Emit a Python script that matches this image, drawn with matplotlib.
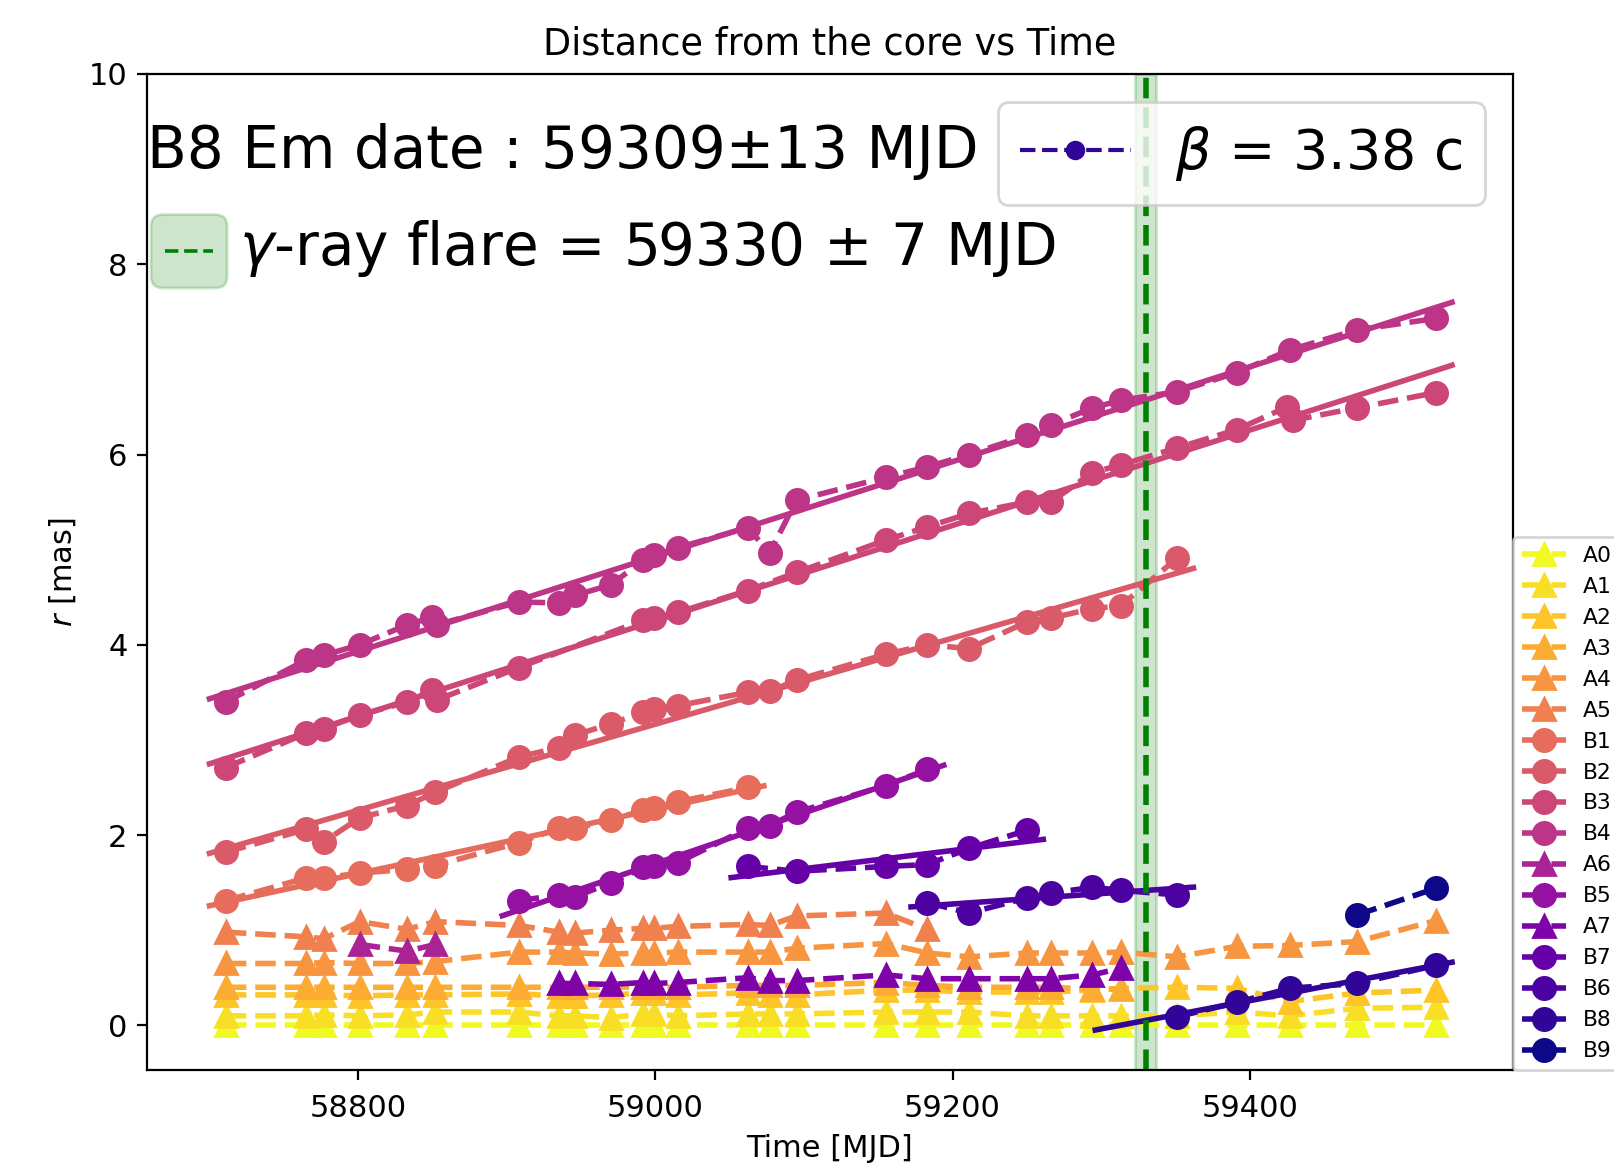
import numpy as np
import matplotlib.pyplot as plt
from matplotlib.lines import Line2D
from matplotlib.patches import FancyBboxPatch
from matplotlib.legend_handler import HandlerBase

plt.rcParams["font.size"] = 11

# observing epochs (MJD)
epochs = [58711, 58765, 58777, 58801, 58833, 58852, 58908, 58935, 58946, 58970,
          58992, 58999, 59015, 59062, 59077, 59095, 59155, 59183, 59211, 59250,
          59266, 59294, 59313, 59351, 59391, 59427, 59472, 59525]

# stationary / slow components (triangles)
r_A0 = [0.0] * 28
r_A1 = [0.10, 0.10, 0.11, 0.10, 0.11, 0.14, 0.14, 0.10, 0.10, 0.08, 0.12, 0.12, 0.10, 0.12,
        0.12, 0.12, 0.14, 0.14, 0.14, 0.10, 0.10, 0.10, 0.10, 0.10, 0.14, 0.10, 0.18, 0.19]
r_A2 = [0.32, 0.32, 0.32, 0.31, 0.32, 0.32, 0.33, 0.31, 0.31, 0.32, 0.34, 0.34, 0.32, 0.34,
        0.32, 0.32, 0.37, 0.37, 0.35, 0.35, 0.35, 0.37, 0.39, 0.40, 0.39, 0.25, 0.34, 0.37]
t_A3 = epochs[:23]
r_A3 = [0.40, 0.40, 0.40, 0.40, 0.40, 0.40, 0.40, 0.40, 0.40, 0.40, 0.40, 0.40, 0.40, 0.42,
        0.42, 0.42, 0.45, 0.42, 0.40, 0.40, 0.40, 0.38, 0.38]
r_A4 = [0.65, 0.65, 0.66, 0.65, 0.65, 0.67, 0.77, 0.77, 0.76, 0.75, 0.76, 0.76, 0.77, 0.77,
        0.77, 0.81, 0.86, 0.76, 0.72, 0.76, 0.76, 0.76, 0.77, 0.72, 0.83, 0.84, 0.88, 1.10]
t_A5 = epochs[:18]
r_A5 = [0.98, 0.93, 0.91, 1.09, 1.01, 1.09, 1.05, 0.98, 0.97, 1.00, 1.02, 1.02, 1.04, 1.06,
        1.05, 1.15, 1.18, 1.01]
t_A6 = [58801, 58833, 58852]
r_A6 = [0.85, 0.78, 0.85]
t_A7 = [58935, 58946, 58970, 58992, 58999, 59015, 59062, 59077, 59095, 59155, 59183,
        59211, 59250, 59266, 59294, 59313]
r_A7 = [0.44, 0.44, 0.43, 0.45, 0.44, 0.45, 0.50, 0.47, 0.47, 0.53, 0.49, 0.49, 0.49,
        0.49, 0.53, 0.60]

# moving knots (circles)
t_B1 = [58711, 58765, 58777, 58801, 58833, 58852, 58908, 58935, 58946, 58970, 58992,
        58999, 59015, 59062]
r_B1 = [1.31, 1.55, 1.55, 1.60, 1.64, 1.68, 1.92, 2.07, 2.07, 2.16, 2.26, 2.28, 2.35, 2.50]
t_B2 = [58711, 58765, 58777, 58801, 58833, 58852, 58908, 58935, 58946, 58970, 58992,
        58999, 59015, 59062, 59077, 59095, 59155, 59183, 59211, 59250, 59266, 59294,
        59313, 59351]
r_B2 = [1.82, 2.06, 1.93, 2.18, 2.31, 2.45, 2.82, 2.92, 3.05, 3.17, 3.29, 3.33, 3.36,
        3.50, 3.51, 3.63, 3.90, 4.00, 3.96, 4.24, 4.28, 4.38, 4.41, 4.91]
t_B3 = [58711, 58765, 58777, 58801, 58833, 58850, 58853, 58908, 58992, 58999, 59015,
        59062, 59095, 59155, 59183, 59211, 59250, 59266, 59294, 59313, 59351, 59391,
        59425, 59429, 59472, 59525]
r_B3 = [2.71, 3.07, 3.12, 3.26, 3.40, 3.52, 3.42, 3.76, 4.26, 4.28, 4.34, 4.57, 4.76,
        5.10, 5.24, 5.38, 5.50, 5.50, 5.81, 5.89, 6.07, 6.26, 6.50, 6.36, 6.49, 6.65]
t_B4 = [58711, 58765, 58777, 58801, 58833, 58850, 58853, 58908, 58935, 58946, 58970,
        58992, 58999, 59015, 59062, 59077, 59095, 59155, 59183, 59211, 59250, 59266,
        59294, 59313, 59351, 59391, 59427, 59472, 59525]
r_B4 = [3.40, 3.84, 3.89, 4.00, 4.21, 4.29, 4.21, 4.45, 4.44, 4.52, 4.63, 4.89, 4.94,
        5.02, 5.23, 4.97, 5.52, 5.76, 5.87, 6.00, 6.20, 6.31, 6.49, 6.57, 6.66, 6.86,
        7.10, 7.31, 7.43]
t_B5 = [58908, 58935, 58946, 58970, 58992, 58999, 59015, 59062, 59077, 59095, 59155, 59183]
r_B5 = [1.31, 1.37, 1.35, 1.50, 1.66, 1.68, 1.71, 2.07, 2.10, 2.24, 2.52, 2.69]
t_B7 = [59062, 59095, 59155, 59183, 59211, 59250]
r_B7 = [1.67, 1.62, 1.67, 1.69, 1.86, 2.05]
t_B6 = [59183, 59211, 59250, 59266, 59294, 59313, 59351]
r_B6 = [1.29, 1.18, 1.34, 1.39, 1.45, 1.42, 1.37]
t_B8 = [59351, 59391, 59427, 59472, 59525]
r_B8 = [0.09, 0.24, 0.39, 0.44, 0.63]
t_B9 = [59472, 59525]
r_B9 = [1.16, 1.44]

names = ["A0", "A1", "A2", "A3", "A4", "A5", "B1", "B2", "B3", "B4",
         "A6", "B5", "A7", "B7", "B6", "B8", "B9"]
series = {
    "A0": (epochs, r_A0), "A1": (epochs, r_A1), "A2": (epochs, r_A2),
    "A3": (t_A3, r_A3), "A4": (epochs, r_A4), "A5": (t_A5, r_A5),
    "B1": (t_B1, r_B1), "B2": (t_B2, r_B2), "B3": (t_B3, r_B3), "B4": (t_B4, r_B4),
    "A6": (t_A6, r_A6), "B5": (t_B5, r_B5), "A7": (t_A7, r_A7), "B7": (t_B7, r_B7),
    "B6": (t_B6, r_B6), "B8": (t_B8, r_B8), "B9": (t_B9, r_B9),
}
fitted = ["B1", "B2", "B3", "B4", "B5", "B7", "B6", "B8"]

# ejection and flare
t_ej, t_ej_err = 59309, 13
beta_app = 3.38
t_flare, t_flare_err = 59330, 7

colors = plt.cm.plasma(np.linspace(1, 0, len(names)))

fig = plt.figure(figsize=(8.07, 5.88), dpi=200)
ax = fig.add_axes([0.0911, 0.0901, 0.8463, 0.847])

for name, c in zip(names, colors):
    t, r = series[name]
    marker = "^" if name.startswith("A") else "o"
    ax.plot(t, r, ls="--", marker=marker, ms=8, lw=2, color=c, label=name)
    if name in fitted:
        p = np.polyfit(t, r, 1)
        t0 = t_ej - t_ej_err if name == "B8" else t[0] - 11
        tt = np.linspace(t0, t[-1] + 11, 50)
        ax.plot(tt, np.polyval(p, tt), "-", lw=2, color=c)

span = ax.axvspan(t_flare - t_flare_err, t_flare + t_flare_err, color="green", alpha=0.2)
ax.axvline(t_flare, color="green", ls="--", lw=2)

ax.set_xlim(58658, 59577)
ax.set_ylim(-0.47, 10)
ax.set_title("Distance from the core vs Time", pad=7)
ax.set_xlabel("Time [MJD]")
ax.set_ylabel("$r$ [mas]")
ax.tick_params(axis="x", pad=5)

leg_comp = ax.legend(loc="lower left", bbox_to_anchor=(1.0, 0.0), borderaxespad=0,
                     fontsize=7.9)
ax.add_artist(leg_comp)

b8_color = colors[names.index("B8")]
beta_handle = Line2D([], [], color=b8_color, ls="--", marker="o", ms=6, lw=1.5)
leg_beta = ax.legend([beta_handle], [r"$\beta$ = %.2f c" % beta_app],
                     loc="upper right", fontsize=20)
ax.add_artist(leg_beta)
ax.text(0.0, 0.9225, "B8 Em date : %d±%d MJD" % (t_ej, t_ej_err), fontsize=20.9,
        ha="left", va="center", transform=ax.transAxes)


class HandlerFlare(HandlerBase):
    """Rounded shaded box with the dashed flare line inside it."""

    def __init__(self, yshift=2.4, **kw):
        super().__init__(**kw)
        self.yshift = yshift

    def create_artists(self, legend, orig_handle, xdescent, ydescent, width, height,
                       fontsize, trans):
        y0 = -ydescent - self.yshift
        box = FancyBboxPatch((-xdescent, y0), width, height,
                             boxstyle="round,pad=%.2f,rounding_size=%.2f"
                             % (0.24 * fontsize, 0.2 * fontsize),
                             facecolor=orig_handle.get_facecolor(),
                             edgecolor=orig_handle.get_edgecolor(),
                             lw=orig_handle.get_linewidth(), transform=trans)
        ln = Line2D([-xdescent, -xdescent + width], [y0 + height / 2] * 2,
                    color="green", ls="--", lw=1.3, transform=trans)
        return [box, ln]


ax.legend([span], [r"$\gamma$-ray flare = %d ± %d MJD" % (t_flare, t_flare_err)],
          handler_map={span: HandlerFlare()},
          loc="center left", bbox_to_anchor=(0.0, 0.825), borderaxespad=0,
          borderpad=0.31, handlelength=0.83, handleheight=0.83, handletextpad=0.45,
          frameon=False, fontsize=20.9)

fig.savefig("out.png")
